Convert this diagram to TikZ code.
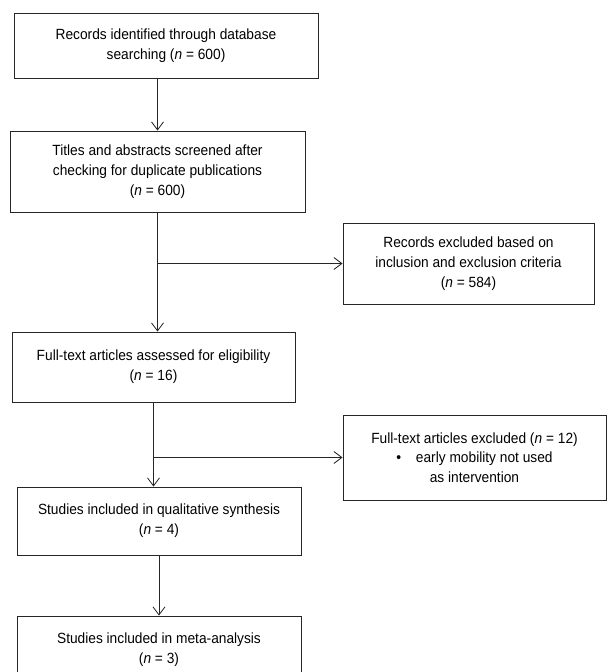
\documentclass[tikz,border=0pt]{standalone}
\usepackage{fontspec}
\setmainfont{Liberation Sans}[FakeStretch=0.93]
\usetikzlibrary{arrows.meta}

\begin{document}
\begin{tikzpicture}[x=0.025cm, y=-0.025cm,
		box/.style={draw=black!85, line width=0.6pt, align=center, inner sep=0pt, font=\fontsize{10.5}{14}\selectfont},
		arr/.style={draw=black!85, line width=0.6pt, -{Straight Barb[length=2mm,width=3mm]}},
		link/.style={draw=black!85, line width=0.6pt}]
				\useasboundingbox (0,0) rectangle (608,672);
				
				\node[box, minimum width=7.6cm, minimum height=1.625cm] (rec) at (166,45.5) {Records identified through database\\searching (\textit{n} = 600)};
				\node[box, minimum width=7.375cm, minimum height=2.025cm] (scr) at (157.5,171.5) {Titles and abstracts screened after\\checking for duplicate publications\\(\textit{n} = 600)};
				\node[box, minimum width=6.275cm, minimum height=2.025cm] (exc) at (468.5,263.5) {Records excluded based on\\inclusion and exclusion criteria\\(\textit{n} = 584)};
				\node[box, minimum width=7.075cm, minimum height=1.75cm] (full) at (153.5,367) {Full-text articles assessed for eligibility\\(\textit{n} = 16)};
				\node[box, minimum width=6.575cm, minimum height=2.125cm] (fexc) at (474.5,457.5) {Full-text articles excluded (\textit{n} = 12)\\•\quad early mobility not used\\as intervention};
				\node[box, minimum width=7.1cm, minimum height=1.7cm] (qual) at (159,521) {Studies included in qualitative synthesis\\(\textit{n} = 4)};
				\node[box, minimum width=7.1cm, minimum height=1.7cm] (meta) at (159,650) {Studies included in meta-analysis\\(\textit{n} = 3)};
				
				\draw[arr] (rec.south -| scr.north) -- (scr.north);
				
				\draw[arr] (scr.south) -- (scr.south |- full.north);
				\draw[arr] (scr.south |- exc.west) -- (exc.west);
				
				\draw[arr] (full.south) -- (full.south |- qual.north);
				\draw[arr] (full.south |- fexc.west) -- (fexc.west);
				
				\draw[arr] (qual.south -| meta.north) -- (meta.north);
			\end{tikzpicture}
\end{document}
